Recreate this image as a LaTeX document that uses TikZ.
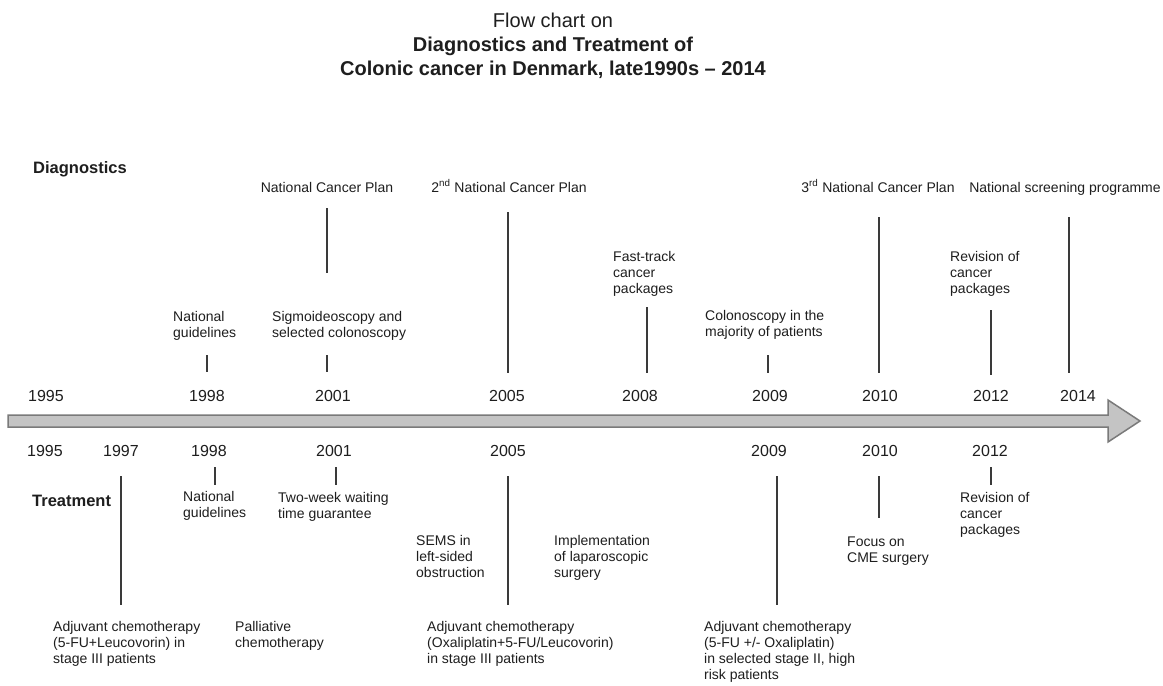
\documentclass[tikz,border=0pt]{standalone}
\usepackage{fontspec}
\setmainfont{Liberation Sans}
\definecolor{txt}{HTML}{1E1E1E}
\definecolor{linecol}{HTML}{3A3A3A}
\definecolor{arrowfill}{HTML}{C4C4C4}
\definecolor{arrowline}{HTML}{7A7A7A}
\begin{document}
\begin{tikzpicture}[x=1pt,y=-1pt,
  lbl/.style={font=\fontsize{14}{16}\selectfont, align=left, inner sep=0pt, text=txt, anchor=north west},
  plan/.style={font=\fontsize{14}{16}\selectfont, inner sep=0pt, text=txt, anchor=base},
  yr/.style={font=\fontsize{16}{18}\selectfont, inner sep=0pt, text=txt, anchor=center},
  head/.style={font=\bfseries\fontsize{16.5}{19}\selectfont, inner sep=0pt, text=txt, anchor=base west},
  ttl/.style={font=\fontsize{20}{24}\selectfont, inner sep=0pt, text=txt, anchor=base},
  ttlb/.style={font=\bfseries\fontsize{20}{24}\selectfont, inner sep=0pt, text=txt, anchor=base},
  tick/.style={draw=linecol, line width=1.4pt},
  bigarrow/.style={fill=arrowfill, draw=arrowline, line width=1.5pt, line join=miter}]
\useasboundingbox (0,0) rectangle (1163,686);
\fill[white] (0,0) rectangle (1163,686);

% Title
\node[ttl]  (t1) at (553,27) {Flow chart on};
\node[ttlb] (t2) at (553,51) {Diagnostics and Treatment of};
\node[ttlb] (t3) at (553,75) {Colonic cancer in Denmark, late1990s -- 2014};

% Headings
\node[head] (hdiag)  at (33,173) {Diagnostics};
\node[head] (htreat) at (32,506) {Treatment};

% Timeline arrow
\draw[bigarrow] (8,415) -- (1108,415) -- (1108,400) -- (1140,421) -- (1108,442) -- (1108,427) -- (8,427) -- cycle;

% Top years
\node[yr] (ty1995) at (46,396) {1995};
\node[yr] (ty1998) at (207,396) {1998};
\node[yr] (ty2001) at (333,396) {2001};
\node[yr] (ty2005) at (507,396) {2005};
\node[yr] (ty2008) at (640,396) {2008};
\node[yr] (ty2009) at (770,396) {2009};
\node[yr] (ty2010) at (880,396) {2010};
\node[yr] (ty2012) at (991,396) {2012};
\node[yr] (ty2014) at (1078,396) {2014};

% Bottom years
\node[yr] (by1995) at (45,451) {1995};
\node[yr] (by1997) at (121,451) {1997};
\node[yr] (by1998) at (209,451) {1998};
\node[yr] (by2001) at (334,451) {2001};
\node[yr] (by2005) at (508,451) {2005};
\node[yr] (by2009) at (769,451) {2009};
\node[yr] (by2010) at (880,451) {2010};
\node[yr] (by2012) at (990,451) {2012};

% Top events
\node[plan] (ncp1) at (327,192) {National Cancer Plan};
\node[plan] (ncp2) at (509,192) {2\textsuperscript{nd} National Cancer Plan};
\node[plan] (ncp3) at (878,192) {3\textsuperscript{rd} National Cancer Plan};
\node[plan] (nsp)  at (1065,192) {National screening programme};
\node[lbl] (dng)  at (173,311.5) {National\\guidelines};
\node[lbl] (dsig) at (272,311.5) {Sigmoideoscopy and\\selected colonoscopy};
\node[lbl] (dft)  at (613,251.5) {Fast-track\\cancer\\packages};
\node[lbl] (dcol) at (705,310.5) {Colonoscopy in the\\majority of patients};
\node[lbl] (drev) at (950,251.5) {Revision of\\cancer\\packages};

% Bottom events
\node[lbl] (tng)   at (183,491.5) {National\\guidelines};
\node[lbl] (ttwo)  at (278,492.5) {Two-week waiting\\time guarantee};
\node[lbl] (tadj1) at (53,621.5) {Adjuvant chemotherapy\\(5-FU+Leucovorin) in\\stage III patients};
\node[lbl] (tpal)  at (235,621.5) {Palliative\\chemotherapy};
\node[lbl] (tsems) at (416,535.5) {SEMS in\\left-sided\\obstruction};
\node[lbl] (tlap)  at (554,535.5) {Implementation\\of laparoscopic\\surgery};
\node[lbl] (tadj2) at (427,621.5) {Adjuvant chemotherapy\\(Oxaliplatin+5-FU/Leucovorin)\\in stage III patients};
\node[lbl] (tadj3) at (704,621.5) {Adjuvant chemotherapy\\(5-FU +/- Oxaliplatin)\\in selected stage II, high\\risk patients};
\node[lbl] (tcme)  at (847,536.5) {Focus on\\CME surgery};
\node[lbl] (trev)  at (960,492.5) {Revision of\\cancer\\packages};

% Tick coordinates (top)
\coordinate (a2001t) at (327,208); \coordinate (a2001b) at (327,273);
\coordinate (a1998t) at (207,355); \coordinate (a1998b) at (207,372);
\coordinate (b2001t) at (327,355); \coordinate (b2001b) at (327,372);
\coordinate (a2005t) at (508,212); \coordinate (a2005b) at (508,373);
\coordinate (a2008t) at (647,307); \coordinate (a2008b) at (647,373);
\coordinate (a2009t) at (768,355); \coordinate (a2009b) at (768,373);
\coordinate (a2010t) at (879,217); \coordinate (a2010b) at (879,373);
\coordinate (a2012t) at (991,310); \coordinate (a2012b) at (991,375);
\coordinate (a2014t) at (1069,217); \coordinate (a2014b) at (1069,373);
% Tick coordinates (bottom)
\coordinate (c1997t) at (121,476); \coordinate (c1997b) at (121,605);
\coordinate (c1998t) at (215,467); \coordinate (c1998b) at (215,485);
\coordinate (c2001t) at (336,467); \coordinate (c2001b) at (336,485);
\coordinate (c2005t) at (508,476); \coordinate (c2005b) at (508,605);
\coordinate (c2009t) at (777,476); \coordinate (c2009b) at (777,605);
\coordinate (c2010t) at (879,476); \coordinate (c2010b) at (879,518);
\coordinate (c2012t) at (991,467); \coordinate (c2012b) at (991,485);

\foreach \n in {a2001,a1998,b2001,a2005,a2008,a2009,a2010,a2012,a2014,c1997,c1998,c2001,c2005,c2009,c2010,c2012}
  \draw[tick] (\n t) -- (\n b);
\end{tikzpicture}
\end{document}
